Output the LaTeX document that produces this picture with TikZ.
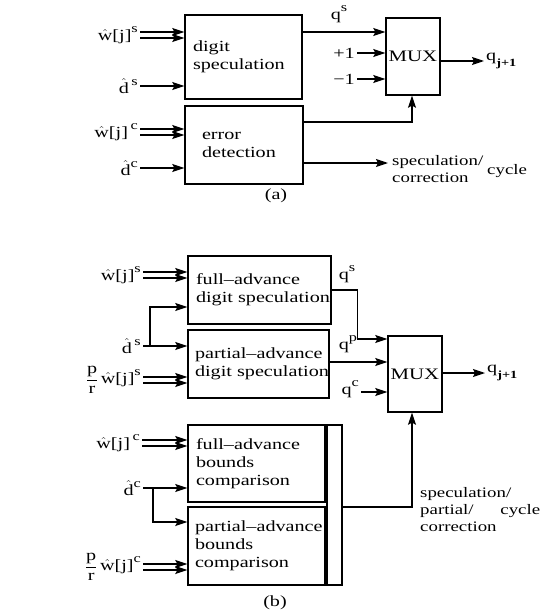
\documentclass[tikz,border=0pt]{standalone}
\usepackage{amsmath}
\usepackage{fontspec}
\setmainfont{Liberation Serif}[FakeStretch=1.3]
\usetikzlibrary{arrows.meta}

\newcommand{\twoarrows}[2]{%
	\draw[arr] ([yshift=3pt]#1) -- ([yshift=3pt]#2);
	\draw[arr] ([yshift=-3pt]#1) -- ([yshift=-3pt]#2);}
\newcommand{\up}[1]{\raisebox{0.5em}{\fontsize{12.5}{12.5}\selectfont #1}}
\newcommand{\down}[1]{\raisebox{-0.4em}{\fontsize{11}{11}\selectfont\bfseries #1}}
\newcommand{\hw}{$\hat{\text{w}}$[j]}
\newcommand{\hd}{$\hat{\text{d}}$}

\begin{document}
\hyphenpenalty=10000
\exhyphenpenalty=10000
\begin{tikzpicture}[x=1pt, y=-1pt,
	every node/.style={inner sep=2pt, font=\fontsize{15.5}{18}\selectfont},
	blk/.style={draw, line width=1.4pt, inner xsep=8pt, align=left},
	arr/.style={line width=1.3pt, -{Stealth[length=12pt, width=8pt, inset=2pt]}},
	small/.style={font=\fontsize{14.5}{17}\selectfont}]
	\useasboundingbox (0,0) rectangle (543,615);

	\node (specA) at (243.5,57) [blk, minimum height=84pt, text width=101pt] {digit\\speculation};
	\node (errA) at (244,145) [blk, inner xsep=17pt, minimum height=78pt, text width=84pt] {error\\detection};
	\node (muxA) at (413,56.5) [draw, line width=1.4pt, minimum width=54pt, minimum height=77pt, inner sep=0pt, font=\fontsize{16}{18}\selectfont] {MUX};

	\node (wsA) at (140,35) [anchor=east] {\hw\up{s}};
	\node (dsA) at (140,86) [anchor=east] {\hd\,\up{s}};
	\node (wcA) at (140,132) [anchor=east] {\hw\,\up{c}};
	\node (dcA) at (140,168) [anchor=east] {\hd\up{c}};

	\node (qsA) at (339,14) {q\up{s}};
	\node (pA) at (357,53) [anchor=east] {+1};
	\node (mA) at (357,79) [anchor=east] {−1};
	\node (qoutA) at (484,61) [anchor=west] {q\down{j+1}};
	\node (scA) at (388,169.5) [anchor=west, align=left, small, inner sep=4pt] {speculation/\\correction};
	\node (cycA) at (485,171) [anchor=west, small] {cycle};
	\node (capA) at (276,196) {(a)};

	\twoarrows{wsA.east}{wsA.east -| specA.west}
	\draw[arr] (dsA.east) -- (dsA.east -| specA.west);
	\twoarrows{wcA.east}{wcA.east -| errA.west}
	\draw[arr] (dcA.east) -- (dcA.east -| errA.west);
	\draw[arr] ([yshift=25pt]specA.east) -- ([yshift=25pt]specA.east -| muxA.west);
	\draw[arr] (pA.east) -- (pA.east -| muxA.west);
	\draw[arr] (mA.east) -- (mA.east -| muxA.west);
	\draw[arr] (muxA.east |- qoutA.west) -- (qoutA.west);
	\draw[arr] ([yshift=23pt]errA.east) -| ([xshift=-1pt]muxA.south);
	\draw[arr] ([yshift=-18pt]errA.east) -- ([yshift=-18pt]errA.east -| scA.west);

	\node (fullS) at (259.5,290) [blk, minimum height=68pt, text width=127pt] {full--advance\\digit~speculation};
	\node (partS) at (258.5,364) [blk, inner xsep=7pt, minimum height=68pt, text width=127pt] {partial--advance\\digit~speculation};
	\node (fullC) at (256.5,463.5) [blk, minimum height=77pt, text width=121pt] {full--advance\\bounds\\comparison};
	\node (partC) at (256.5,546) [blk, inner xsep=7pt, minimum height=78pt, text width=123pt] {partial--advance\\bounds\\comparison};
	\node (barC) at (334.5,505) [draw, line width=1.4pt, minimum width=15pt, minimum height=160pt, inner sep=0pt] {};
	\node (muxB) at (415,374) [draw, line width=1.4pt, minimum width=54pt, minimum height=76pt, inner sep=0pt, font=\fontsize{16}{18}\selectfont] {MUX};

	\node (wsB) at (143,275) [anchor=east] {\hw\up{s}};
	\node (dsB) at (143,346) [anchor=east] {\hd\,\up{s}};
	\node (pwsB) at (143,380) [anchor=east] {$\dfrac{\text{p}}{\text{r}}$\,\hw\up{s}};
	\node (wcB) at (142,443) [anchor=east] {\hw\,\up{c}};
	\node (dcB) at (143,488) [anchor=east] {\hd\up{c}};
	\node (pwcB) at (143,567) [anchor=east] {$\dfrac{\text{p}}{\text{r}}$\,\hw\up{c}};

	\node (qsB) at (347,274) {q\up{s}};
	\node (qpB) at (348,344) {q\up{p}};
	\node (qcB) at (361,389) [anchor=east] {q\up{c}};
	\node (qoutB) at (485,373) [anchor=west] {q\down{j+1}};
	\node (scB) at (416,510) [anchor=west, align=justify, text width=120pt, small, inner sep=4pt] {speculation/\\partial/\hfill cycle\\correction};
	\node (capB) at (275,603) {(b)};

	\twoarrows{wsB.east}{wsB.east -| fullS.west}
	\draw[arr] (dsB.east) -- (dsB.east -| partS.west);
	\draw[arr] ([xshift=7pt]dsB.east) |- ([yshift=-17pt]fullS.west);
	\twoarrows{pwsB.east}{pwsB.east -| partS.west}
	\twoarrows{wcB.east}{wcB.east -| fullC.west}
	\draw[arr] (dcB.east) -- (dcB.east -| fullC.west);
	\draw[arr] ([xshift=10pt]dcB.east) |- ([yshift=24pt]partC.west);
	\twoarrows{pwcB.east}{pwcB.east -| partC.west}
	\draw[arr] (fullS.east) -- ++(26,0) |- ([yshift=35pt]muxB.west);
	\draw[arr] ([yshift=12pt]muxB.west -| partS.east) -- ([yshift=12pt]muxB.west);
	\draw[arr] (qcB.east |- 0,392) -- (qcB.east |- 0,392 -| muxB.west);
	\draw[arr] (muxB.east |- qoutB.west) -- (qoutB.west);
	\draw[arr] ([yshift=-2pt]barC.east) -| ([xshift=-3pt]muxB.south);
\end{tikzpicture}
\end{document}
